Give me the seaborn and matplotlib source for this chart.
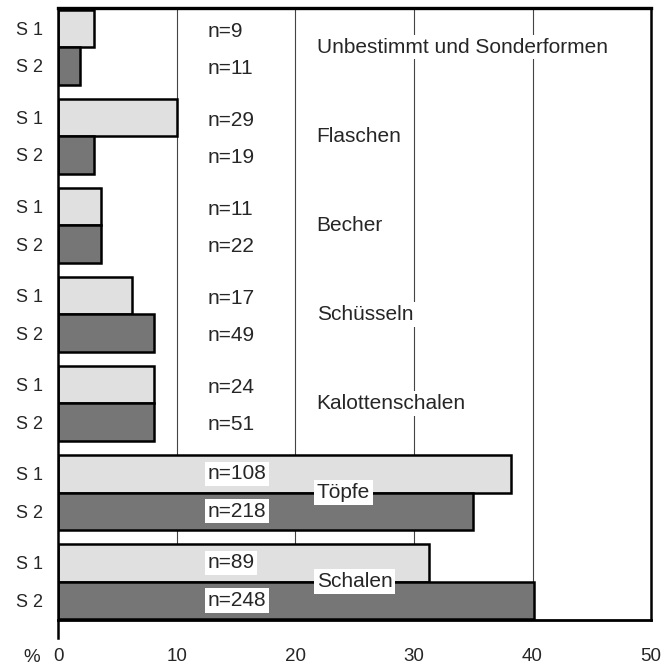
from matplotlib import pyplot as plt
import pandas as pd
import seaborn as sns
import numpy as np

# Kategorien (von oben nach unten)
categories = ["Unbestimmt und Sonderformen", "Flaschen", "Becher", "Schüsseln",
              "Kalottenschalen", "Töpfe", "Schalen"]
s1_values = [3.0, 10.0, 3.6, 6.2, 8.1, 38.2, 31.3]
s2_values = [1.8, 3.0, 3.6, 8.1, 8.1, 35.0, 40.1]
s1_counts = [9, 29, 11, 17, 24, 108, 89]
s2_counts = [11, 19, 22, 49, 51, 218, 248]
x_ticks = [0, 10, 20, 30, 40, 50]

df = pd.DataFrame({
    "Kategorie": categories * 2,
    "Anteil": s1_values + s2_values,
    "Serie": ["S 1"] * len(categories) + ["S 2"] * len(categories),
})

sns.set_style("white")
plt.rcParams['font.family'] = ['Liberation Sans', 'DejaVu Sans']

fig = plt.figure(figsize=(6.61, 6.68), dpi=100)
ax = fig.add_axes([0.088, 0.072, 0.897, 0.916])

# Gitterlinien hinter den Balken
for xv in x_ticks[1:-1]:
    ax.axvline(xv, color="#444444", lw=0.8, zorder=0)

sns.barplot(data=df, y="Kategorie", x="Anteil", hue="Serie", orient="h",
            order=categories, palette=["#e0e0e0", "#767676"], width=0.84,
            gap=0, edgecolor="black", linewidth=1.8, saturation=1,
            legend=False, ax=ax, zorder=2)

half = 0.21
ax.set_xlim(0, 50)
ax.set_ylim(len(categories) - 1 + 0.43, -0.44)

# S 1 / S 2 Beschriftung
ypos = []
ylab = []
for i in range(len(categories)):
    ypos += [i - half, i + half]
    ylab += ["S 1", "S 2"]
ax.set_yticks(ypos)
ax.set_yticklabels(ylab, fontsize=13)
ax.set_xticks(x_ticks)
ax.set_xticklabels([str(t) for t in x_ticks], fontsize=13.5)
ax.tick_params(axis="y", length=0, pad=11)
ax.tick_params(axis="x", length=4, width=1, direction="out", pad=16)
ax.set_xlabel("")
ax.set_ylabel("")

# n-Werte und Kategorienamen
white = dict(facecolor="white", edgecolor="none", pad=2)
for i, cat in enumerate(categories):
    big = s1_values[i] > 20
    dy = 0 if big else 0.03
    ax.text(12.6, i - half + dy, f"n={s1_counts[i]}", fontsize=15, va="center",
            ha="left", bbox=white, zorder=4)
    ax.text(12.6, i + half + dy, f"n={s2_counts[i]}", fontsize=15,
            va="center", ha="left", bbox=white, zorder=4)
    ax.text(21.8, i, cat, fontsize=15, va="center", ha="left",
            bbox=white, zorder=4)

ax.text(-0.045, -0.062, "%", transform=ax.transAxes, fontsize=13.5,
        ha="center", va="center")

for side in ["top", "right", "left", "bottom"]:
    ax.spines[side].set_visible(True)
    ax.spines[side].set_color("black")
ax.spines["top"].set_linewidth(2.4)
ax.spines["right"].set_linewidth(1.8)
ax.spines["left"].set_linewidth(1.8)
ax.spines["bottom"].set_linewidth(2.0)
ax.spines["left"].set_bounds(len(categories) - 1 + 0.43 + 0.2, -0.44)
ax.spines["left"].set_zorder(5)

fig.savefig("out.png", dpi=100)
